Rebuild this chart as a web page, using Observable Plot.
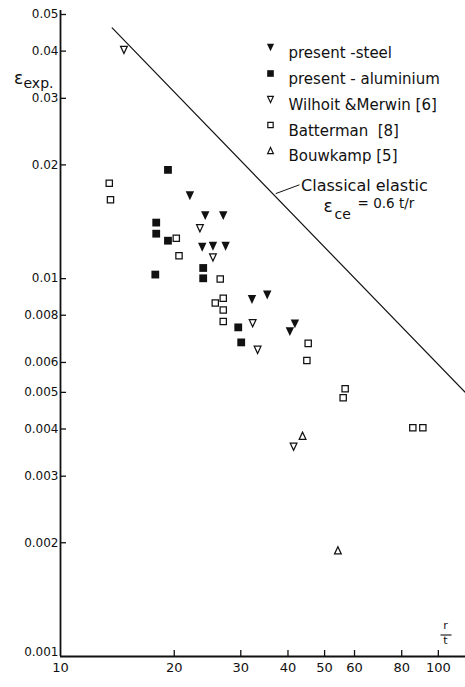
<!DOCTYPE html>
<html><head><meta charset="utf-8">
<script src="https://cdn.jsdelivr.net/npm/d3@7"></script>
<script src="https://cdn.jsdelivr.net/npm/@observablehq/plot@0.6"></script>
<style>
html,body{margin:0;padding:0;background:#fff;}
#chart svg{display:block;}
</style></head><body><div id="chart"></div>
<script>
// r/t , epsilon_exp
const steel = [[22.0,0.01658],[24.16,0.01468],[26.96,0.01468],[23.72,0.01210],[25.32,0.01218],[27.35,0.01218],[32.12,0.00881],[35.25,0.00905],[41.72,0.00759],[40.46,0.00724]];
const aluminium = [[19.25,0.0194],[17.92,0.01407],[17.92,0.01315],[19.25,0.0126],[17.82,0.01025],[23.86,0.01067],[23.86,0.01002],[29.54,0.00743],[30.08,0.00678]];
const wilhoit = [[14.72,0.0403],[23.39,0.01359],[25.32,0.01138],[32.25,0.00762],[33.24,0.00648],[41.39,0.00359]];
const batterman = [[13.46,0.01787],[13.56,0.01618],[20.25,0.01279],[20.59,0.0115],[26.47,0.00998],[25.68,0.00862],[26.96,0.00887],[26.96,0.00826],[26.96,0.0077],[45.24,0.00674],[44.88,0.00607],[56.67,0.00511],[55.99,0.00484],[85.6,0.00403],[90.99,0.00403]];
const bouwkamp = [[43.72,0.00384],[54.22,0.00191]];
const classical = [[13.7,0.0461],[118,0.00499]];
const noteLeader = [[37.2,0.0168],[42.8,0.0177]];
const xTicks = [10,20,30,40,50,60,80,100];
const yTicks = [0.001,0.002,0.003,0.004,0.005,0.006,0.008,0.01,0.02,0.03,0.04,0.05];
const legendLabels = ["present -steel","present - aluminium","Wilhoit &Merwin [6]","Batterman  [8]","Bouwkamp [5]"];

const INK = "#111";
function tri(down){
  return {draw(c, size){
    const r = Math.sqrt(size/Math.PI), hw = 1.05*r, hh = 1.12*r, s = down ? 1 : -1;
    c.moveTo(0, s*hh); c.lineTo(-hw, -s*hh); c.lineTo(hw, -s*hh); c.closePath();
  }};
}
const fractionBar = {draw(c, size){ const r = Math.sqrt(size/Math.PI); c.moveTo(-r, 0); c.lineTo(r, 0); }};
const series = [
  {label: legendLabels[0], data: steel, symbol: tri(true), r: 4.0, fill: INK, stroke: "none"},
  {label: legendLabels[1], data: aluminium, symbol: "square", r: 4.4, fill: INK, stroke: "none"},
  {label: legendLabels[2], data: wilhoit, symbol: tri(true), r: 3.2, fill: "white", stroke: INK},
  {label: legendLabels[3], data: batterman, symbol: "square", r: 3.55, fill: "white", stroke: INK},
  {label: legendLabels[4], data: bouwkamp, symbol: tri(false), r: 3.2, fill: "white", stroke: INK}
];
const legendDy = [33, 59, 85, 110.5, 136];

const marks = [
  Plot.ruleX([10], {stroke: INK, strokeWidth: 1.8, insetTop: -4}),
  Plot.ruleY([0.001], {stroke: INK, strokeWidth: 1.8}),
  Plot.tickY(yTicks.slice(1), {y: d => d, insetRight: 399, stroke: INK, strokeWidth: 1.3}),
  Plot.tickX(xTicks.slice(1), {x: d => d, insetTop: 636, stroke: INK, strokeWidth: 1.3}),
  Plot.text(yTicks.slice(1), {y: d => d, frameAnchor: "left", textAnchor: "end", dx: -2, text: d => String(d), fontSize: 12, fill: INK}),
  Plot.text(yTicks.slice(0, 1), {y: d => d, frameAnchor: "left", textAnchor: "end", dx: -2, dy: -4, text: d => String(d), fontSize: 12, fill: INK}),
  Plot.text(xTicks, {x: d => d, frameAnchor: "bottom", dy: 15, text: d => String(d), fontSize: 13, fill: INK}),
  Plot.line(classical, {x: d => d[0], y: d => d[1], stroke: INK, strokeWidth: 1.2}),
  Plot.line(noteLeader, {x: d => d[0], y: d => d[1], stroke: INK, strokeWidth: 1}),
  Plot.text([noteLeader[1]], {x: d => d[0], y: d => d[1], text: ["Classical elastic"], textAnchor: "start", dx: 2, dy: 1, fontSize: 16, fill: INK}),
  Plot.text([noteLeader[1]], {x: d => d[0], y: d => d[1], text: ["ε"], textAnchor: "middle", dx: 29, dy: 22, fontSize: 17, fill: INK}),
  Plot.text([noteLeader[1]], {x: d => d[0], y: d => d[1], text: ["ce"], textAnchor: "start", dx: 35.5, dy: 30, fontSize: 14, fill: INK}),
  Plot.text([noteLeader[1]], {x: d => d[0], y: d => d[1], text: ["= 0.6 t/r"], textAnchor: "start", dx: 58.5, dy: 19, fontSize: 13.5, fill: INK}),
  // axis titles
  Plot.text([0], {frameAnchor: "top-left", text: ["ε"], textAnchor: "middle", dx: -42, dy: 57, fontSize: 17, fill: INK}),
  Plot.text([0], {frameAnchor: "top-left", text: ["exp."], textAnchor: "start", dx: -37, dy: 64, fontSize: 14, fill: INK}),
  Plot.text([0], {frameAnchor: "bottom-right", text: ["r"], textAnchor: "middle", dx: -20, dy: -28, fontSize: 11, fill: INK}),
  Plot.dot([0], {frameAnchor: "bottom-right", symbol: fractionBar, r: 5.5, dx: -19.5, dy: -21.5, stroke: INK, strokeWidth: 1.1, fill: "none"}),
  Plot.text([0], {frameAnchor: "bottom-right", text: ["t"], textAnchor: "middle", dx: -20, dy: -13, fontSize: 11, fill: INK})
];
series.forEach((s, i) => {
  marks.push(Plot.dot(s.data, {x: d => d[0], y: d => d[1], symbol: s.symbol, r: s.r, fill: s.fill, stroke: s.stroke, strokeWidth: 1.25}));
  marks.push(Plot.dot([0], {frameAnchor: "top-left", dx: 210, dy: legendDy[i], symbol: s.symbol, r: s.r * 0.85, fill: s.fill, stroke: s.stroke, strokeWidth: 1.2}));
  marks.push(Plot.text([s.label], {frameAnchor: "top-left", dx: 228, dy: legendDy[i], text: d => d, textAnchor: "start", fontSize: 15, fill: INK}));
});

const chart = Plot.plot({
  width: 465, height: 687,
  marginLeft: 60, marginRight: 0, marginTop: 14, marginBottom: 31,
  x: {type: "log", domain: [10, 118], axis: null},
  y: {type: "log", domain: [0.001, 0.05], axis: null},
  style: {fontFamily: "DejaVu Sans", background: "#fff", color: INK, overflow: "visible"},
  marks
});
document.getElementById("chart").appendChild(chart);
</script></body></html>
